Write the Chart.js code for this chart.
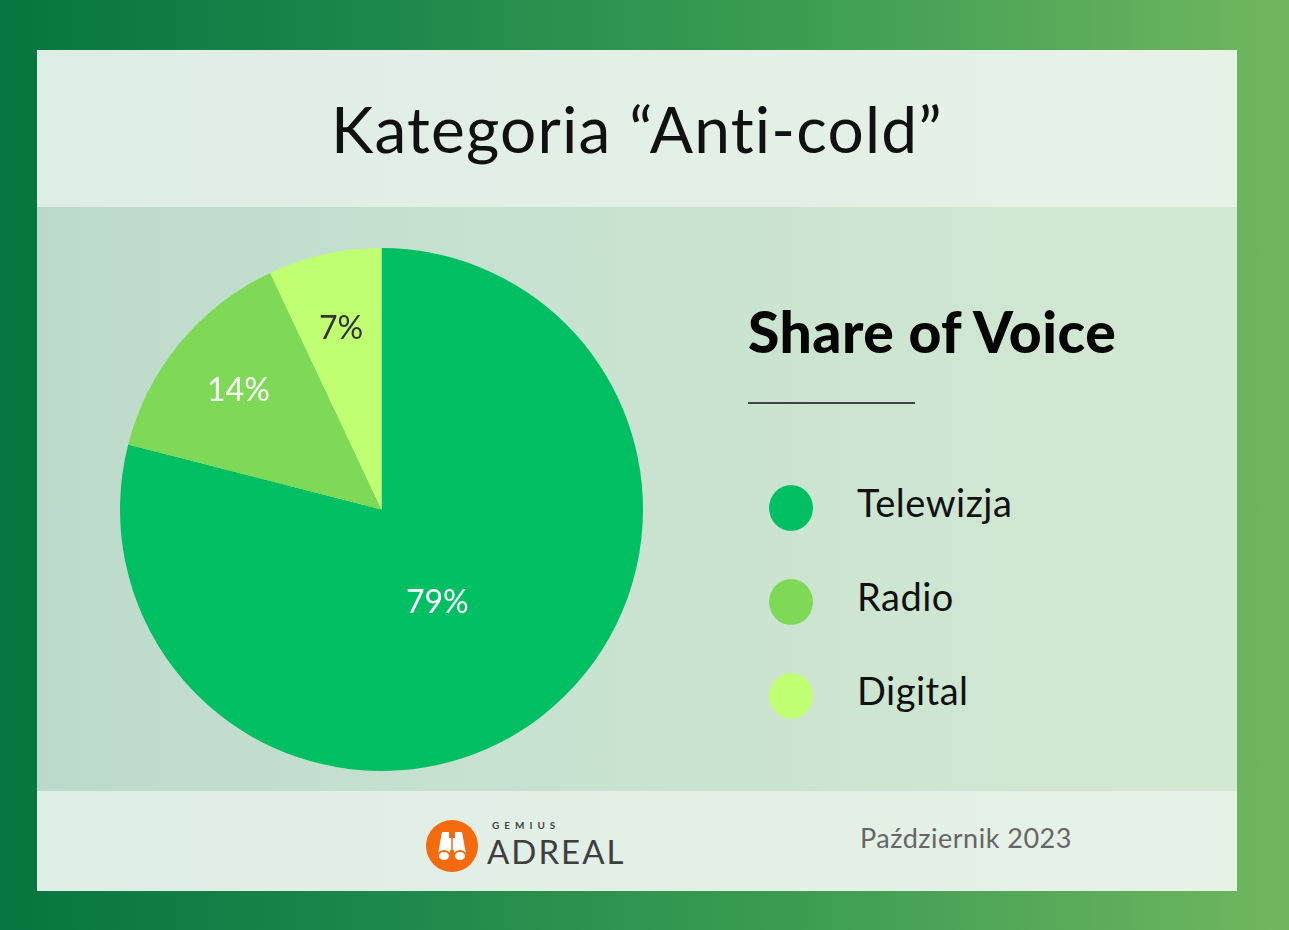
<!DOCTYPE html>
<html>
<head>
<meta charset="utf-8">
<script src="https://cdn.jsdelivr.net/npm/chart.js@4.4.1/dist/chart.umd.min.js"></script>
<style>
  html, body { margin: 0; padding: 0; }
  body {
    width: 1289px; height: 930px; overflow: hidden; position: relative;
    background: linear-gradient(90deg, #06753f 0%, #1d884b 30%, #3f9f52 65%, #72b660 100%);
    font-family: "Lato", "Noto Sans", sans-serif;
  }
  #panel { position: absolute; left: 37px; top: 50px; width: 1200px; height: 841px; }
  #head {
    position: absolute; left: 0; top: 0; width: 1200px; height: 157px;
    background: linear-gradient(90deg, #deede5 0%, #e7f2e7 100%);
  }
  #head h1 {
    margin: 0; position: absolute; left: 0; right: 0; top: 40px; text-align: center;
    font-weight: 400; font-size: 64px; color: #111; letter-spacing: 1.2px;
  }
  #mid {
    position: absolute; left: 0; top: 157px; width: 1200px; height: 584px;
    background: linear-gradient(90deg, #bcdacb 0%, #c7e2d0 40%, #d3e8d2 100%);
  }
  #foot {
    position: absolute; left: 0; top: 741px; width: 1200px; height: 100px;
    background: linear-gradient(90deg, #deede5 0%, #e7f2e7 100%);
  }
  #chartBox { position: absolute; left: 83px; top: 41px; width: 523px; height: 523px; }
  #sov {
    position: absolute; left: 711px; top: 90px; margin: 0;
    font-weight: 900; font-size: 57px; color: #050505; letter-spacing: 0.5px;
  }
  #rule { position: absolute; left: 711px; top: 195px; width: 167px; height: 2px; background: #444; }
  #legend { position: absolute; left: 732px; top: 278px; }
  .item { position: relative; height: 94px; }
  .dot { position: absolute; left: 0; top: 0; width: 44px; height: 46px; border-radius: 50%; }
  .lbl { position: absolute; left: 88px; top: -6px; font-size: 38px; color: #111; font-weight: 400; letter-spacing: 0.5px; }
  #logo { position: absolute; left: 389px; top: 28px; width: 200px; height: 54px; }
  #logo .circ { position: absolute; left: 0; top: 1px; width: 52px; height: 52px; border-radius: 50%; background: #f46a0e; }
  #logo .gem { position: absolute; left: 66px; top: 0px; font-size: 10px; letter-spacing: 5px; color: #444; font-weight: 700; }
  #logo .adr { position: absolute; left: 61px; top: 12px; font-size: 33px; letter-spacing: 2px; color: #3e3e3e; font-weight: 400; }
  #date { position: absolute; left: 823px; top: 30px; font-size: 27px; color: #666; letter-spacing: 0.5px; }
</style>
</head>
<body>
<div id="panel">
  <div id="head"><h1>Kategoria “Anti-cold”</h1></div>
  <div id="mid">
    <div id="chartBox"><canvas id="pie"></canvas></div>
    <h2 id="sov">Share of Voice</h2>
    <div id="rule"></div>
    <div id="legend"></div>
  </div>
  <div id="foot">
    <div id="logo">
      <div class="circ">
        <svg width="52" height="52" viewBox="0 0 52 52">
          <path d="M16 12 h7 v6 h6 v-6 h7 l4 22 h-12 v-4 h-4 v4 h-12 z" fill="#fff"/>
          <ellipse cx="18" cy="36" rx="6" ry="5" fill="#fff" stroke="#f46a0e" stroke-width="2"/>
          <ellipse cx="34" cy="36" rx="6" ry="5" fill="#fff" stroke="#f46a0e" stroke-width="2"/>
          <line x1="26" y1="13" x2="26" y2="30" stroke="#f46a0e" stroke-width="1.5"/>
        </svg>
      </div>
      <div class="gem">GEMIUS</div>
      <div class="adr">ADREAL</div>
    </div>
    <div id="date">Październik 2023</div>
  </div>
</div>

<script>
// data
const categories = ["Telewizja", "Radio", "Digital"];
const shares = [79, 14, 7];
const sliceColors = ["#00bf63", "#7ed957", "#c1ff72"];
const labelColors = ["#ffffff", "#ffffff", "#333333"];

// legend built from the same arrays
const legendBox = document.getElementById("legend");
categories.forEach((name, i) => {
  const item = document.createElement("div");
  item.className = "item";
  item.innerHTML = '<div class="dot" style="background:' + sliceColors[i] + '"></div><div class="lbl">' + name + '</div>';
  legendBox.appendChild(item);
});

// draws the % text on each slice
const sliceLabels = {
  id: "sliceLabels",
  afterDatasetsDraw(chart) {
    const ctx = chart.ctx;
    const meta = chart.getDatasetMeta(0);
    meta.data.forEach((arc, i) => {
      const p = arc.getProps(["x", "y", "startAngle", "endAngle", "outerRadius"], true);
      let mid = (p.startAngle + p.endAngle) / 2;
      let dist = p.outerRadius * 0.71;
      if (shares[i] > 50) { // big slice: label sits closer in and a bit lower
        dist = p.outerRadius * 0.415;
        mid += 0.12;
      }
      ctx.save();
      ctx.fillStyle = labelColors[i];
      ctx.font = "400 32px Lato, 'Noto Sans', sans-serif";
      ctx.textAlign = "center";
      ctx.textBaseline = "middle";
      ctx.fillText(shares[i] + "%", p.x + Math.cos(mid) * dist, p.y + Math.sin(mid) * dist);
      ctx.restore();
    });
  }
};

new Chart(document.getElementById("pie"), {
  type: "pie",
  data: {
    labels: categories,
    datasets: [{ data: shares, backgroundColor: sliceColors, borderWidth: 0 }]
  },
  options: {
    responsive: true,
    maintainAspectRatio: false,
    animation: false,
    layout: { padding: 0 },
    plugins: { legend: { display: false }, tooltip: { enabled: false } }
  },
  plugins: [sliceLabels]
});
</script>
</body>
</html>
